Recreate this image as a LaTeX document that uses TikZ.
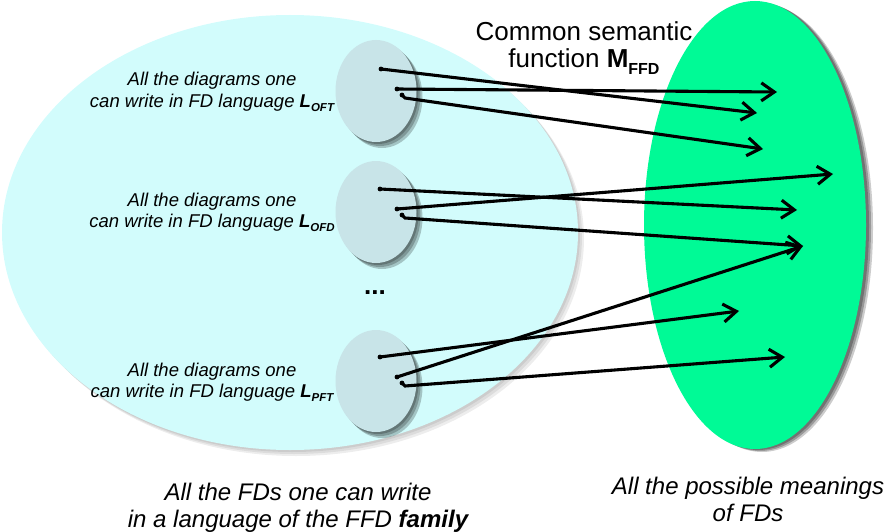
\documentclass[tikz,border=0pt]{standalone}
\usepackage{fontspec}
\setmainfont{Liberation Sans}
\usetikzlibrary{arrows.meta,shadows,shapes.geometric}

\definecolor{familybg}{RGB}{210,252,252}
\definecolor{langbg}{RGB}{200,228,232}
\definecolor{meaningbg}{RGB}{0,250,150}

\tikzset{
  softshadow/.style={general shadow={fill=black,opacity=#1,shadow xshift=2pt,shadow yshift=-2pt},
                     general shadow={fill=black,opacity=#1,shadow xshift=4pt,shadow yshift=-4pt},
                     general shadow={fill=black,opacity=#1,shadow xshift=6pt,shadow yshift=-6pt}},
  blob/.style={ellipse,inner sep=0pt,draw=none},
  langset/.style={blob,fill=langbg,minimum width=81pt,minimum height=102pt,softshadow=0.22},
  lab/.style={inner sep=0pt,align=center,font=\fontsize{18.5}{21}\selectfont\itshape},
  biglab/.style={inner sep=0pt,align=center,font=\fontsize{24}{26.5}\selectfont\itshape},
  maplink/.style={line width=3.1pt,-{Straight Barb[length=13pt,width=18pt]}},
  origin/.style={circle,fill=black,inner sep=0pt,minimum size=4.8pt}
}
\newcommand{\lsub}[1]{\textbf{L}\raisebox{-0.45ex}{\fontsize{11.5}{12}\selectfont\bfseries #1}}

\begin{document}
\begin{tikzpicture}[x=1pt,y=-1pt]
\useasboundingbox (0,0) rectangle (885,532);

% the two sets
\node[blob,fill=familybg,minimum width=576pt,minimum height=435pt,softshadow=0.07] (family) at (290,232.5) {};
\node[blob,fill=meaningbg,minimum width=222pt,minimum height=448pt,
      general shadow={fill=black,opacity=.25,shadow xshift=3pt,shadow yshift=-1pt},
      general shadow={fill=black,opacity=.25,shadow xshift=5pt,shadow yshift=-2pt},
      general shadow={fill=black,opacity=.2,shadow xshift=7pt,shadow yshift=-3pt}] (meanings) at (755,225) {};

% the three language subsets
\node[langset] (oft) at (376,91) {};
\node[langset] (ofd) at (376,212) {};
\node[langset] (pft) at (376,381) {};

% labels (base anchor = baseline of the last line)
\node[lab,anchor=base] (toft) at (212,107) {All the diagrams one\\can write in FD language \lsub{OFT}};
\node[lab,anchor=base] (tofd) at (212,227) {All the diagrams one\\can write in FD language \lsub{OFD}};
\node[lab,anchor=base] (tpft) at (212,397) {All the diagrams one\\can write in FD language \lsub{PFT}};
\node[inner sep=0pt,font=\fontsize{26}{26}\selectfont\bfseries] (dots) at (375,293) {...};

\node[inner sep=0pt,align=center,anchor=base,font=\fontsize{26}{27.5}\selectfont] (semfun) at (584,68)
  {Common semantic\\function \textbf{M}\raisebox{-0.45ex}{\fontsize{16}{16}\selectfont\bfseries FFD}};

\node[biglab,anchor=base] (tfamily) at (298,527) {All the FDs one can write\\in a language of the FFD \textbf{family}};
\node[biglab,anchor=base] (tmeaning) at (748,521) {All the possible meanings\\of FDs};

% diagram points
\coordinate (s11) at (381,69);  \coordinate (s12) at (397,89);  \coordinate (s13) at (402,95);
\coordinate (s21) at (380,189); \coordinate (s22) at (397,209); \coordinate (s23) at (402,215);
\coordinate (s31) at (380,357); \coordinate (s32) at (397,377); \coordinate (s33) at (402,383);
\coordinate (k13) at (405,98);  \coordinate (k23) at (405,218); \coordinate (k33) at (405,386);

% meaning points
\coordinate (e1) at (777,92);  \coordinate (e2) at (757,113); \coordinate (e3) at (763,149);
\coordinate (e4) at (833,174); \coordinate (e5) at (797,210); \coordinate (e6) at (803,246);
\coordinate (e7) at (739,311); \coordinate (e8) at (785,357);

% semantic mapping
\draw[maplink] (s12) -- (e1);
\draw[maplink] (s11) -- (e2);
\draw[maplink] (s13) -- (k13) -- (e3);
\draw[maplink] (s22) -- (e4);
\draw[maplink] (s21) -- (e5);
\draw[maplink] (s23) -- (k23) -- (e6);
\draw[maplink] (s32) -- (e6);
\draw[maplink] (s31) -- (e7);
\draw[maplink] (s33) -- (k33) -- (e8);

\foreach \p in {s11,s12,s13,s21,s22,s23,s31,s32,s33}
  \node[origin] (dot-\p) at (\p) {};
\end{tikzpicture}
\end{document}
